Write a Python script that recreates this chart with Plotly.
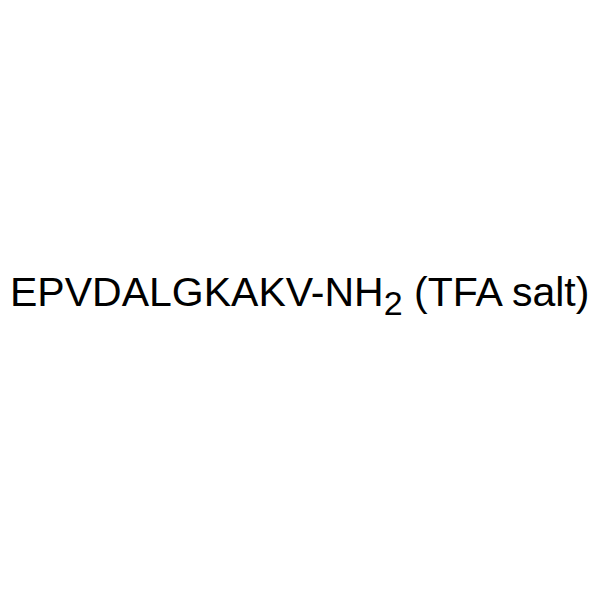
import plotly.graph_objects as go

# compound label shown in the picture
peptide = "EPVDALGKAKV"
suffix = "-NH<sub><span style='font-size:34px'>2</span></sub>"
salt = "(TFA salt)"

label = f"{peptide}{suffix} {salt}"

fig = go.Figure()

# page body has an 8px margin, so keep the figure inside the 600px window
fig.add_annotation(
    text=label,
    x=0.4932, y=0.5152,
    xref="paper", yref="paper",
    xanchor="center", yanchor="middle",
    showarrow=False,
    font=dict(family="Liberation Sans, Arial", size=41, color="black"),
)

fig.update_layout(
    width=592, height=592,
    margin=dict(l=0, r=0, t=0, b=0),
    paper_bgcolor="white",
    plot_bgcolor="white",
    xaxis=dict(visible=False),
    yaxis=dict(visible=False),
    showlegend=False,
)

fig.write_html("out.html")
